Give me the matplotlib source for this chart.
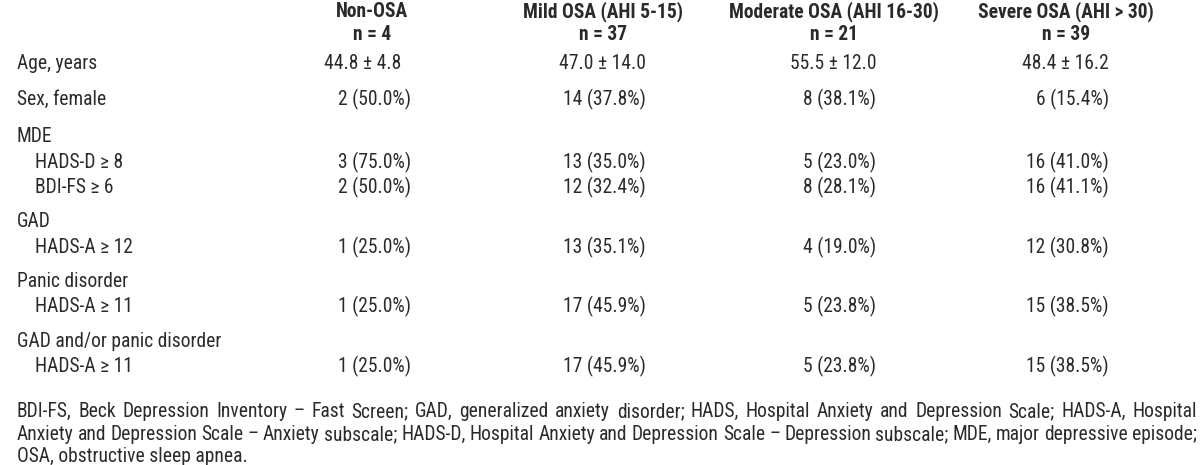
import matplotlib
matplotlib.use('Agg')
import matplotlib.pyplot as plt
from matplotlib import font_manager

# Table values
groups = ['Non-OSA', 'Mild OSA (AHI 5-15)', 'Moderate OSA (AHI 16-30)', 'Severe OSA (AHI > 30)']
n_sizes = [4, 37, 21, 39]
age_mean = [44.8, 47.0, 55.5, 48.4]
age_sd = [4.8, 14.0, 12.0, 16.2]
female_n = [2, 14, 8, 6]
female_pct = [50.0, 37.8, 38.1, 15.4]
hadsd_n = [3, 13, 5, 16]
hadsd_pct = [75.0, 35.0, 23.0, 41.0]
bdi_n = [2, 12, 8, 16]
bdi_pct = [50.0, 32.4, 28.1, 41.1]
gad_n = [1, 13, 4, 12]
gad_pct = [25.0, 35.1, 19.0, 30.8]
panic_n = [1, 17, 5, 15]
panic_pct = [25.0, 45.9, 23.8, 38.5]
anx_n = [1, 17, 5, 15]
anx_pct = [25.0, 45.9, 23.8, 38.5]

footnote = ['BDI-FS, Beck Depression Inventory \u2013 Fast Screen; GAD, generalized anxiety disorder; HADS, Hospital Anxiety and Depression Scale; HADS-A, Hospital',
            'Anxiety and Depression Scale \u2013 Anxiety subscale; HADS-D, Hospital Anxiety and Depression Scale \u2013 Depression subscale; MDE, major depressive episode;',
            'OSA, obstructive sleep apnea.']

# a condensed sans if one is around, else plain Liberation Sans
names = {f.name for f in font_manager.fontManager.ttflist}
FONT = 'Liberation Sans'
for cand in ['Liberation Sans Narrow', 'Arial Narrow', 'Roboto Condensed']:
    if cand in names:
        FONT = cand
        break
COLOR = '#2a2a2a'

W, H = 1200, 465
fig = plt.figure(figsize=(12, 4.65), dpi=100)
renderer = fig.canvas.get_renderer()

# size the font so that "Age, years" is about 82 px wide (as in the reference),
# but no taller than a 14 px cap height
probe = fig.text(0, 0, 'Age, years', family=FONT, size=10)
pw = probe.get_window_extent(renderer).width
probe.remove()
SIZE = min(10 * 82 / pw, 14 / (0.716 * 100 / 72))
CAP = 0.716 * SIZE * 100 / 72


def put(x, y, s, ha='left', bold=False):
    # y is the vertical middle of the capitals, in pixels from the top
    return fig.text(x / W, 1 - (y + CAP / 2) / H, s, ha=ha, va='baseline',
                    family=FONT, size=SIZE, color=COLOR,
                    weight='bold' if bold else 'normal')


col_center = [372, 603, 834, 1066]
col_right = [411, 646, 876, 1109]

# header
for i, g in enumerate(groups):
    put(col_center[i], 10, g, ha='center', bold=True)
    put(col_center[i], 33, 'n = %d' % n_sizes[i], ha='center', bold=True)

# digit width, to line up the SD decimals
t = put(0, -100, '0')
digit_w = t.get_window_extent(renderer).width
t.remove()

put(17, 62, 'Age, years')
for i in range(4):
    pad = 4 - len('%.1f' % age_sd[i])
    put(col_right[i] - pad * digit_w, 62, '%.1f \u00b1 %.1f' % (age_mean[i], age_sd[i]), ha='right')

rows = [
    ('Sex, female', 17, 98, female_n, female_pct),
    ('MDE', 17, 135, None, None),
    ('HADS-D \u2265 8', 35, 161, hadsd_n, hadsd_pct),
    ('BDI-FS \u2265 6', 35, 186, bdi_n, bdi_pct),
    ('GAD', 17, 220, None, None),
    ('HADS-A \u2265 12', 35, 246, gad_n, gad_pct),
    ('Panic disorder', 17, 280, None, None),
    ('HADS-A \u2265 11', 35, 305, panic_n, panic_pct),
    ('GAD and/or panic disorder', 17, 340, None, None),
    ('HADS-A \u2265 11', 35, 365, anx_n, anx_pct),
]
for label, x, y, cnt, pct in rows:
    put(x, y, label)
    if cnt is None:
        continue
    for i in range(4):
        put(col_right[i], y, '%d (%.1f%%)' % (cnt[i], pct[i]), ha='right')

# footnote, justified between left and right margins
left, right = 17, 1197
foot_y = [410, 433, 455]
for k, line in enumerate(footnote):
    if k == len(footnote) - 1:
        put(left, foot_y[k], line)
        continue
    words = line.split(' ')
    texts = [put(0, foot_y[k], w) for w in words]
    widths = [tx.get_window_extent(renderer).width for tx in texts]
    gap = (right - left - sum(widths)) / (len(words) - 1)
    x = left
    for tx, w in zip(texts, widths):
        tx.set_x(x / W)
        x += w + gap

fig.savefig('out.png', dpi=100)
